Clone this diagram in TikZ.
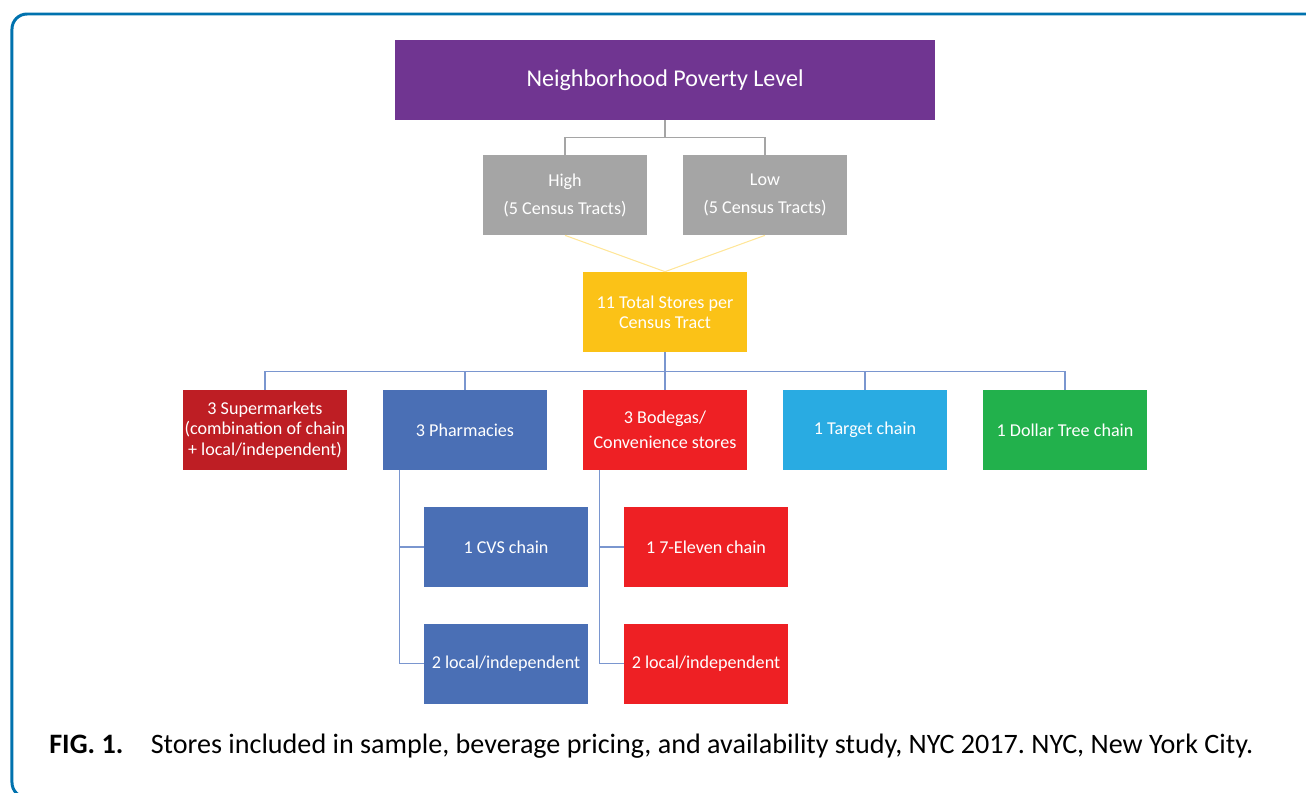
\documentclass[tikz,border=0pt]{standalone}
\usepackage{fontspec}
\setmainfont{Carlito}
\usetikzlibrary{positioning}
\definecolor{framecol}{RGB}{0,114,174}
\definecolor{purp}{RGB}{112,53,145}
\definecolor{grayb}{RGB}{165,165,165}
\definecolor{yell}{RGB}{251,194,23}
\definecolor{dred}{RGB}{190,30,36}
\definecolor{blueb}{RGB}{74,111,181}
\definecolor{redb}{RGB}{238,32,36}
\definecolor{cyanb}{RGB}{41,171,226}
\definecolor{greenb}{RGB}{34,177,76}
\definecolor{linkb}{RGB}{122,150,207}
\definecolor{linky}{RGB}{255,230,153}
\frenchspacing

\begin{document}
\begin{tikzpicture}[node distance=2.33cm and 4cm, on grid,
    box/.style={minimum width=3.28cm, minimum height=1.6cm, inner sep=1pt,
        text=white, align=center, font=\fontsize{10.3}{11.5}\selectfont},
    link/.style={linkb, line width=0.9pt},
    lgray/.style={grayb, line width=0.9pt},
    lyel/.style={linky, line width=0.6pt}]
    \useasboundingbox (-13.3,1.6) rectangle (12.82,-14.24);
    \begin{scope}
        \clip (-13.3,1.6) rectangle (12.82,-14.24);
        \draw[framecol, line width=1.7pt, rounded corners=0.3cm] (-13.06,1.32) rectangle (13.3,-14.35);
    \end{scope}
    \node[box, fill=purp, minimum width=10.8cm, font=\fontsize{13.7}{16}\selectfont] (npl) {Neighborhood Poverty Level};
    \node[box, fill=grayb] (high) [below=2.3cm of npl, xshift=-2cm] {High\\[4.4pt](5 Census Tracts)};
    \node[box, fill=grayb] (low) [right=of high] {Low\\[4.4pt](5 Census Tracts)};
    \node[box, fill=yell] (tot) [below right=2.34cm and 2cm of high] {11 Total Stores per\\Census Tract};
    \node[box, fill=blueb] (pha) [below left=2.36cm and 4cm of tot] {3 Pharmacies};
    \node[box, fill=dred] (sup) [left=of pha] {3 Supermarkets\\(combination of chain\\+ local/independent)};
    \node[box, fill=redb] (bod) [right=of pha] {3 Bodegas/\\[2.6pt]Convenience stores};
    \node[box, fill=cyanb] (tgt) [right=of bod] {1 Target chain};
    \node[box, fill=greenb] (dol) [right=of tgt] {1 Dollar Tree chain};
    \node[box, fill=blueb] (cvs) [below right=2.34cm and 0.82cm of pha] {1 CVS chain};
    \node[box, fill=blueb] (pla) [below=of cvs] {2 local/independent};
    \node[box, fill=redb] (sev) [below right=2.34cm and 0.82cm of bod] {1 7-Eleven chain};
    \node[box, fill=redb] (bla) [below=of sev] {2 local/independent};
    % connectors
    \draw[lgray] (npl.south) -- ++(0,-0.34) coordinate (gbar);
    \draw[lgray] (gbar) -| (high.north);
    \draw[lgray] (gbar) -| (low.north);
    \draw[lyel] (high.south) -- (tot.north);
    \draw[lyel] (low.south) -- (tot.north);
    \draw[link] (tot.south) -- ++(0,-0.38) coordinate (sbar);
    \foreach \n in {sup, pha, bod, tgt, dol}
        \draw[link] (sbar) -| (\n.north);
    \draw[link] ([xshift=0.34cm]pha.south west) |- (cvs.west);
    \draw[link] ([xshift=0.34cm]pha.south west) |- (pla.west);
    \draw[link] ([xshift=0.34cm]bod.south west) |- (sev.west);
    \draw[link] ([xshift=0.34cm]bod.south west) |- (bla.west);
    % caption
    \node[anchor=west, inner sep=0pt, font=\fontsize{16}{19}\selectfont] (cap) at (-12.32,-13.32)
        {\textbf{FIG. 1.}\hspace{0.55cm}Stores included in sample, beverage pricing, and availability study, NYC 2017. NYC, New York City.};
\end{tikzpicture}
\end{document}
